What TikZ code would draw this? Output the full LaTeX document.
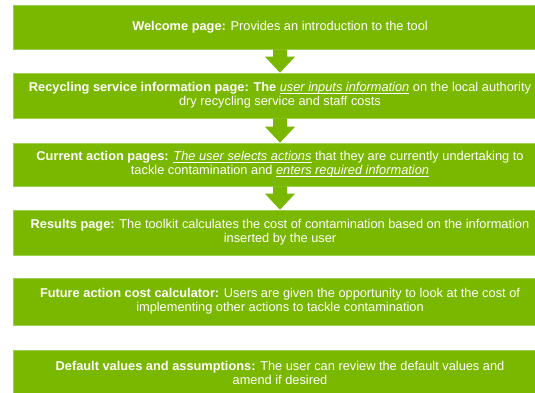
\documentclass[tikz,border=0pt]{standalone}
\usepackage{fontspec}
\setmainfont{Liberation Sans}
\usetikzlibrary{calc}
\definecolor{boxgreen}{RGB}{122,184,0}
\definecolor{edgegreen}{RGB}{160,208,80}
\tikzset{
  flowbox/.style={fill=boxgreen, draw=edgegreen, line width=0.6pt, minimum width=534pt,
    inner sep=0pt, text=white, align=center,
    font=\fontsize{12.8}{14}\selectfont},
}
\newcommand\flowarrow[2]{%
  \fill[boxgreen] ([xshift=-7pt]#1.south) -- ([xshift=-7pt,yshift=16pt]#2.north)
    -- ([xshift=-15pt,yshift=16pt]#2.north) -- (#2.north)
    -- ([xshift=15pt,yshift=16pt]#2.north) -- ([xshift=7pt,yshift=16pt]#2.north)
    -- ([xshift=7pt]#1.south) -- cycle;}
\newcommand\ul[1]{\setbox0\hbox{\textit{#1}}\rlap{\rule[-1.6pt]{\wd0}{0.55pt}}\box0\relax}
\begin{document}
\begin{tikzpicture}[x=1pt,y=-1pt]
\useasboundingbox (0,0) rectangle (535,392);
\fill[white] (0,0) rectangle (535,392);
\node[flowbox, minimum height=44pt] (b1) at (280,27)
  {\textbf{Welcome page:} Provides an introduction to the tool};
\node[flowbox, minimum height=45pt] (b2) at (280,95.5)
  {\textbf{Recycling service information page: The} \ul{user inputs information} on the local authority\\dry recycling service and staff costs};
\node[flowbox, minimum height=43pt] (b3) at (280,164.5)
  {\textbf{Current action pages:} \ul{The user selects actions} that they are currently undertaking to\\tackle contamination and \ul{enters required information}};
\node[flowbox, minimum height=45pt] (b4) at (280,232.5)
  {\textbf{Results page:} The toolkit calculates the cost of contamination based on the information\\inserted by the user};
\node[flowbox, minimum height=47pt] (b5) at (280,301.5)
  {\textbf{Future action cost calculator:} Users are given the opportunity to look at the cost of\\implementing other actions to tackle contamination};
\node[flowbox, minimum height=45pt] (b6) at (280,372.5)
  {\textbf{Default values and assumptions:} The user can review the default values and\\amend if desired};
\flowarrow{b1}{b2}
\flowarrow{b2}{b3}
\flowarrow{b3}{b4}
\end{tikzpicture}
\end{document}
